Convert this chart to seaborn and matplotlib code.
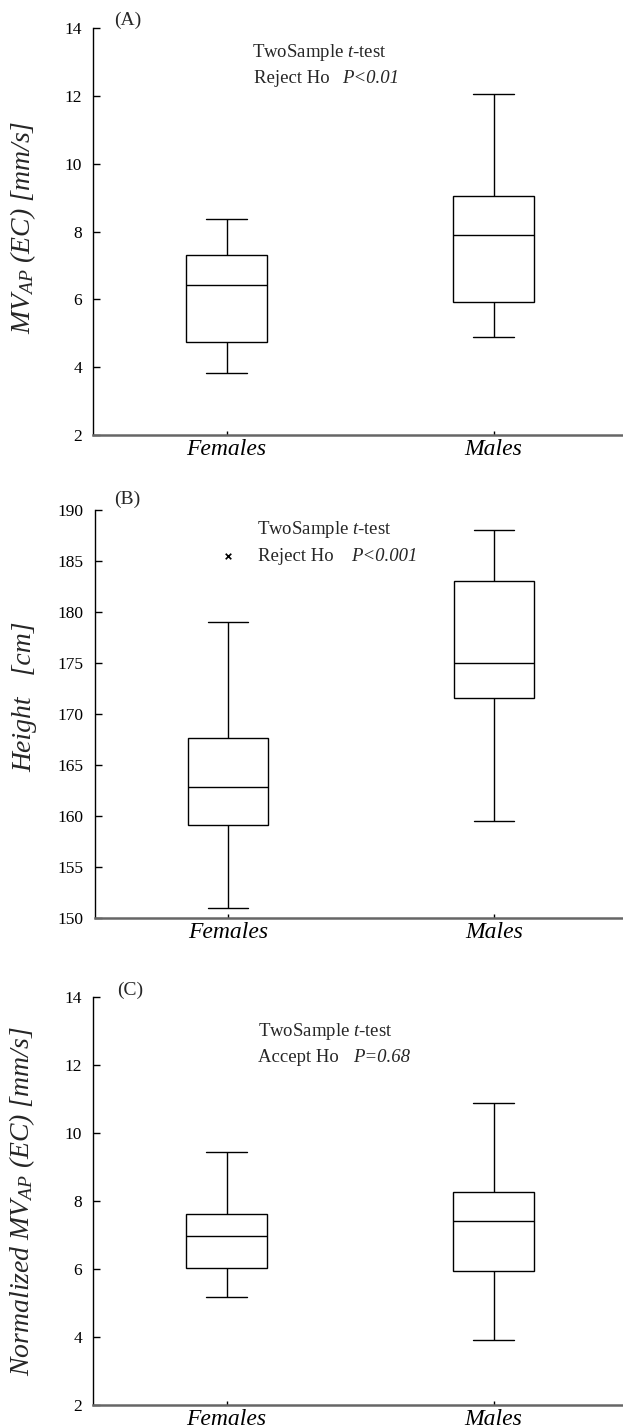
import numpy as np
import pandas as pd
import matplotlib
matplotlib.use("Agg")
import matplotlib.pyplot as plt
import seaborn as sns

# ---------------- data (five-number summaries) ----------------
categories = ["Females", "Males"]

a_females = [3.82, 4.74, 6.43, 7.31, 8.37]
a_males = [4.89, 5.92, 7.91, 9.04, 12.06]

b_females = [151.0, 159.1, 162.8, 167.6, 179.0]
b_males = [159.5, 171.6, 175.0, 183.0, 188.0]
b_female_outlier = [185.5]

c_females = [5.19, 6.05, 6.97, 7.63, 9.44]
c_males = [3.93, 5.95, 7.41, 8.26, 10.89]

a_ticks = [2, 4, 6, 8, 10, 12, 14]
b_ticks = [150, 155, 160, 165, 170, 175, 180, 185, 190]
c_ticks = [2, 4, 6, 8, 10, 12, 14]

# ---------------- style ----------------
sns.set_style("ticks")
plt.rcParams["font.family"] = ["Liberation Serif", "DejaVu Serif"]
plt.rcParams["mathtext.fontset"] = "custom"
plt.rcParams["mathtext.rm"] = "Liberation Serif"
plt.rcParams["mathtext.it"] = "Liberation Serif:italic"
plt.rcParams["mathtext.bf"] = "Liberation Serif:bold"

fig = plt.figure(figsize=(6.23, 14.28), dpi=100)

H = 1428.0
W = 623.0


def make_axes(left_px, top_px, bottom_px):
    return fig.add_axes([left_px / W, 1 - bottom_px / H,
                         1.0 - left_px / W, (bottom_px - top_px) / H])


def long_df(fem, male):
    return pd.DataFrame({
        "group": [categories[0]] * len(fem) + [categories[1]] * len(male),
        "value": list(fem) + list(male),
    })


def style_axes(ax, ticks, ylabel, label_coords):
    ax.set_xlim(-0.5, 1.485)
    ax.set_ylim(ticks[0], ticks[-1])
    ax.set_yticks(ticks)
    ax.set_xlabel("")
    ax.set_ylabel(ylabel, fontsize=20, fontstyle="italic")
    ax.yaxis.set_label_coords(*label_coords)
    sns.despine(ax=ax, top=True, right=True)
    ax.spines["left"].set_color("black")
    ax.spines["left"].set_linewidth(1.0)
    ax.spines["bottom"].set_color("#666666")
    ax.spines["bottom"].set_linewidth(1.8)
    ax.tick_params(axis="y", direction="in", length=5, width=1.0,
                   labelsize=12.5, pad=8, colors="black")
    ax.tick_params(axis="x", direction="in", length=3, width=1.0,
                   labelsize=17, pad=3, colors="black")
    for lab in ax.get_xticklabels():
        lab.set_fontstyle("italic")
    ax.set_facecolor("white")


def draw_box(ax, fem, male):
    df = long_df(fem, male)
    sns.boxplot(data=df, x="group", y="value", order=categories, ax=ax,
                width=0.30, whis=(0, 100), color="white", linecolor="black",
                linewidth=1.0, fill=True, showfliers=False)


# ---------------- panel A ----------------
axA = make_axes(93, 28, 435)
draw_box(axA, a_females, a_males)
style_axes(axA, a_ticks, r"$MV_{AP}$ (EC) [mm/s]", (-0.104, 0.51))
axA.text(0.066, 1.02, "(A)", transform=axA.transAxes, ha="center", va="center", fontsize=14)
axA.text(0.30, 0.941, "TwoSample $t$-test", transform=axA.transAxes, ha="left", va="center", fontsize=13.5)
axA.text(0.304, 0.877, "Reject Ho", transform=axA.transAxes, ha="left", va="center", fontsize=13.5)
axA.text(0.47, 0.877, "P<0.01", transform=axA.transAxes, ha="left", va="center", fontsize=13.5, fontstyle="italic")

# ---------------- panel B ----------------
axB = make_axes(95, 510, 917.7)
draw_box(axB, b_females, b_males)
out_df = pd.DataFrame({"group": [categories[0]] * len(b_female_outlier),
                       "value": b_female_outlier})
sns.stripplot(data=out_df, x="group", y="value", order=categories, ax=axB,
              jitter=False, marker="x", color="black", size=4, linewidth=1.2)
style_axes(axB, b_ticks, "Height   [cm]", (-0.11, 0.541))
axB.text(0.061, 1.025, "(B)", transform=axB.transAxes, ha="center", va="center", fontsize=14)
axB.text(0.307, 0.951, "TwoSample $t$-test", transform=axB.transAxes, ha="left", va="center", fontsize=13.5)
axB.text(0.309, 0.887, "Reject Ho", transform=axB.transAxes, ha="left", va="center", fontsize=13.5)
axB.text(0.485, 0.887, "P<0.001", transform=axB.transAxes, ha="left", va="center", fontsize=13.5, fontstyle="italic")

# ---------------- panel C ----------------
axC = make_axes(93, 997.3, 1405.3)
draw_box(axC, c_females, c_males)
style_axes(axC, c_ticks, r"Normalized $MV_{AP}$ (EC) [mm/s]", (-0.106, 0.5))
axC.text(0.07, 1.018, "(C)", transform=axC.transAxes, ha="center", va="center", fontsize=14)
axC.text(0.311, 0.915, "TwoSample $t$-test", transform=axC.transAxes, ha="left", va="center", fontsize=13.5)
axC.text(0.311, 0.852, "Accept Ho", transform=axC.transAxes, ha="left", va="center", fontsize=13.5)
axC.text(0.49, 0.852, "P=0.68", transform=axC.transAxes, ha="left", va="center", fontsize=13.5, fontstyle="italic")

fig.savefig("out.png", dpi=100, facecolor="white")
